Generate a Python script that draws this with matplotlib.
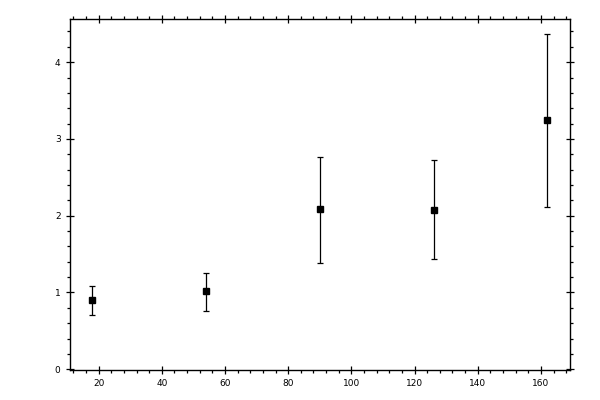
import numpy as np
import matplotlib
matplotlib.use('Agg')
import matplotlib.pyplot as plt
from matplotlib.ticker import MultipleLocator

# values
x_vals = [18, 54, 90, 126, 162]
y_vals = [0.896, 1.013, 2.082, 2.069, 3.246]
y_low = [0.700, 0.765, 1.378, 1.430, 2.108]
y_high = [1.090, 1.260, 2.770, 2.720, 4.370]

y = np.array(y_vals)
yerr = [y - np.array(y_low), np.array(y_high) - y]

fig = plt.figure(figsize=(6, 4), dpi=100)
ax = fig.add_axes([0.116, 0.075, 0.834, 0.877])

ax.errorbar(x_vals, y, yerr=yerr, fmt='s', color='black', markersize=5,
            elinewidth=0.9, capsize=2.3, capthick=0.9)

ax.set_xlim(10.8, 169.2)
ax.set_ylim(-0.01, 4.56)

ax.xaxis.set_major_locator(MultipleLocator(20))
ax.xaxis.set_minor_locator(MultipleLocator(4))
ax.yaxis.set_major_locator(MultipleLocator(1))
ax.yaxis.set_minor_locator(MultipleLocator(0.2))

for s in ax.spines.values():
    s.set_linewidth(1.0)

ax.tick_params(which='both', top=True, right=True, width=0.9, labelsize=6.5)
ax.tick_params(which='major', direction='inout', length=6)
ax.tick_params(which='minor', direction='out', length=2.2)

fig.savefig('out.png', dpi=100)
